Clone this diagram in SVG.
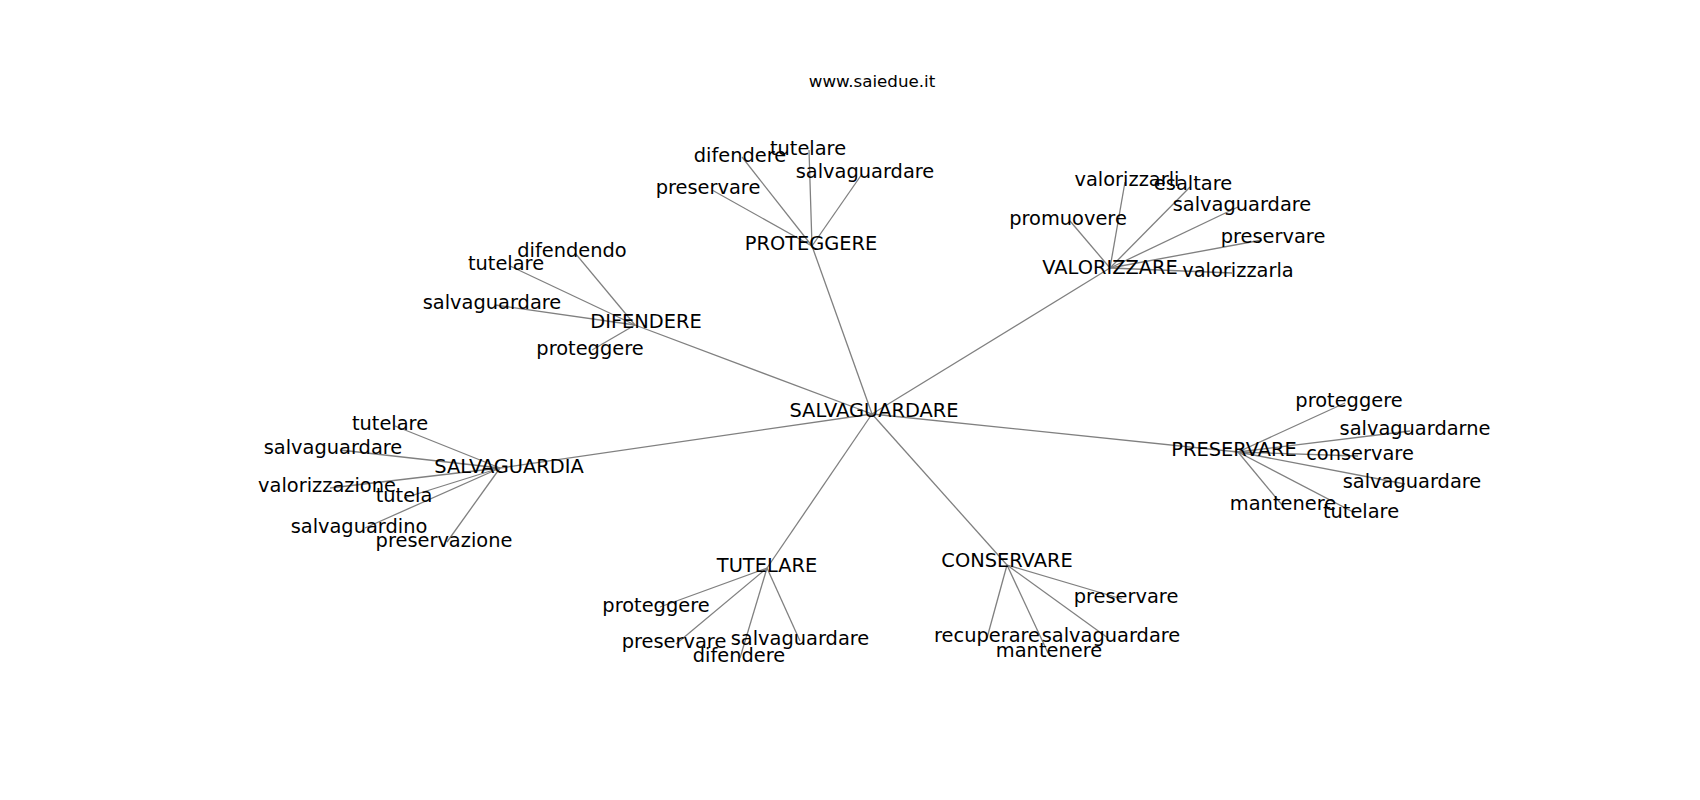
<svg xmlns="http://www.w3.org/2000/svg" width="1700" height="800" viewBox="0 0 1700 800">
<style>
text{font-family:"DejaVu Sans",sans-serif;font-size:19.4px;fill:#000;text-anchor:middle}
.t{font-size:16.7px}
.e line{stroke:#808080;stroke-width:1.3}
</style>
<rect width="1700" height="800" fill="#fff"/>
<text class="t" x="872" y="87">www.saiedue.it</text>
<g class="e" id="edges">
<line x1="872" y1="414" x2="812" y2="246"/>
<line x1="872" y1="414" x2="635" y2="325"/>
<line x1="872" y1="414" x2="1110" y2="268"/>
<line x1="872" y1="414" x2="500" y2="468"/>
<line x1="872" y1="414" x2="1238" y2="452"/>
<line x1="872" y1="414" x2="767" y2="568"/>
<line x1="872" y1="414" x2="1007" y2="565"/>
<line x1="812" y1="246" x2="742" y2="157"/>
<line x1="812" y1="246" x2="809" y2="150"/>
<line x1="812" y1="246" x2="862" y2="174"/>
<line x1="812" y1="246" x2="712" y2="190"/>
<line x1="635" y1="325" x2="575" y2="253"/>
<line x1="635" y1="325" x2="510" y2="266"/>
<line x1="635" y1="325" x2="495" y2="305"/>
<line x1="635" y1="325" x2="592" y2="350"/>
<line x1="1110" y1="268" x2="1125" y2="182"/>
<line x1="1110" y1="268" x2="1190" y2="187"/>
<line x1="1110" y1="268" x2="1238" y2="207"/>
<line x1="1110" y1="268" x2="1070" y2="221"/>
<line x1="1110" y1="268" x2="1262" y2="240"/>
<line x1="1110" y1="268" x2="1232" y2="273"/>
<line x1="500" y1="468" x2="395" y2="426"/>
<line x1="500" y1="468" x2="340" y2="450"/>
<line x1="500" y1="468" x2="330" y2="488"/>
<line x1="500" y1="468" x2="404" y2="498"/>
<line x1="500" y1="468" x2="365" y2="528"/>
<line x1="500" y1="468" x2="447" y2="542"/>
<line x1="1238" y1="452" x2="1345" y2="403"/>
<line x1="1238" y1="452" x2="1410" y2="431"/>
<line x1="1238" y1="452" x2="1358" y2="456"/>
<line x1="1238" y1="452" x2="1405" y2="484"/>
<line x1="1238" y1="452" x2="1282" y2="505"/>
<line x1="1238" y1="452" x2="1355" y2="513"/>
<line x1="767" y1="568" x2="660" y2="607"/>
<line x1="767" y1="568" x2="676" y2="644"/>
<line x1="767" y1="568" x2="800" y2="641"/>
<line x1="767" y1="568" x2="740" y2="658"/>
<line x1="1007" y1="565" x2="1122" y2="599"/>
<line x1="1007" y1="565" x2="987" y2="638"/>
<line x1="1007" y1="565" x2="1108" y2="638"/>
<line x1="1007" y1="565" x2="1048" y2="653"/>
</g>
<g id="n-salvaguardare"><text x="874" y="417">SALVAGUARDARE</text></g>
<g id="n-proteggere"><text x="811" y="250">PROTEGGERE</text>
<text x="740" y="162">difendere</text><text x="808" y="155">tutelare</text><text x="865" y="178">salvaguardare</text><text x="708" y="194">preservare</text></g>
<g id="n-difendere"><text x="646" y="328">DIFENDERE</text>
<text x="572" y="257">difendendo</text><text x="506" y="270">tutelare</text><text x="492" y="309">salvaguardare</text><text x="590" y="355">proteggere</text></g>
<g id="n-valorizzare"><text x="1110" y="274">VALORIZZARE</text>
<text x="1127" y="186">valorizzarli</text><text x="1193" y="190">esaltare</text><text x="1242" y="211">salvaguardare</text><text x="1068" y="225">promuovere</text><text x="1273" y="243">preservare</text><text x="1238" y="277">valorizzarla</text></g>
<g id="n-salvaguardia"><text x="509" y="473">SALVAGUARDIA</text>
<text x="390" y="430">tutelare</text><text x="333" y="454">salvaguardare</text><text x="327" y="492">valorizzazione</text><text x="404" y="502">tutela</text><text x="359" y="533">salvaguardino</text><text x="444" y="547">preservazione</text></g>
<g id="n-preservare"><text x="1234" y="456">PRESERVARE</text>
<text x="1349" y="407">proteggere</text><text x="1415" y="435">salvaguardarne</text><text x="1360" y="460">conservare</text><text x="1412" y="488">salvaguardare</text><text x="1283" y="510">mantenere</text><text x="1361" y="518">tutelare</text></g>
<g id="n-tutelare"><text x="767" y="572">TUTELARE</text>
<text x="656" y="612">proteggere</text><text x="674" y="648">preservare</text><text x="800" y="645">salvaguardare</text><text x="739" y="662">difendere</text></g>
<g id="n-conservare"><text x="1007" y="567">CONSERVARE</text>
<text x="1126" y="603">preservare</text><text x="987" y="642">recuperare</text><text x="1111" y="642">salvaguardare</text><text x="1049" y="657">mantenere</text></g>
</svg>
